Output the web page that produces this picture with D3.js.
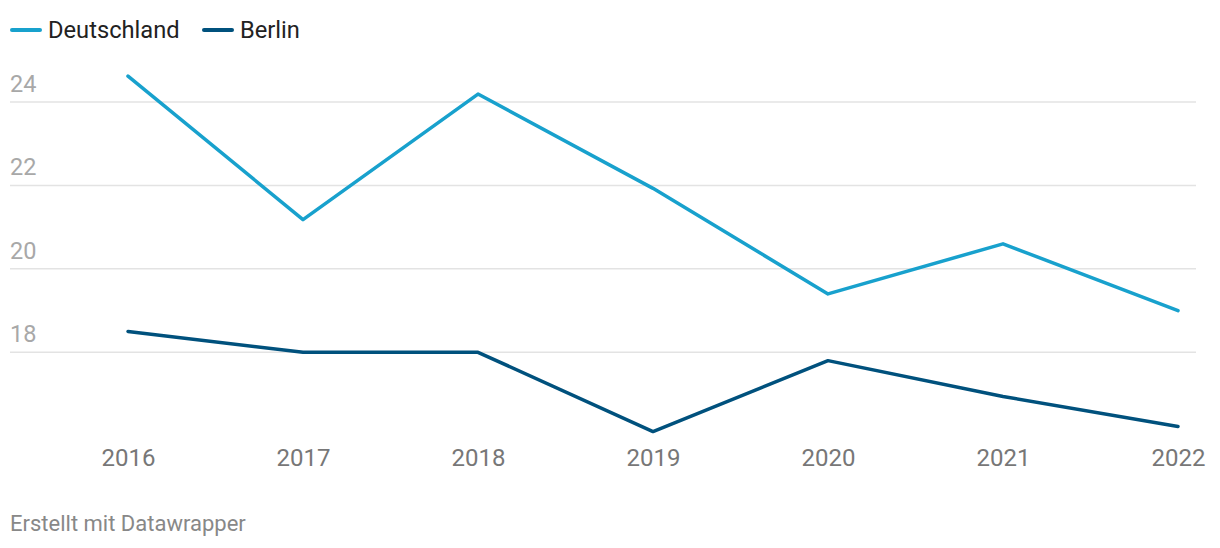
<!DOCTYPE html>
<html><head><meta charset="utf-8">
<script src="https://cdn.jsdelivr.net/npm/d3@7"></script>
<style>body{margin:0;background:#fff;font-family:Roboto,sans-serif;}</style>
</head><body><svg id="c" width="1220" height="548"></svg>
<script>
const years = ["2016","2017","2018","2019","2020","2021","2022"];
const deutschland = [24.62, 21.18, 24.19, 21.93, 19.4, 20.6, 19.0];
const berlin = [18.5, 18.0, 18.0, 16.1, 17.8, 16.94, 16.22];
const yTicks = [18, 20, 22, 24];
const seriesNames = ["Deutschland", "Berlin"];
const colors = ["#18a1cd", "#00517d"];

const svg = d3.select("#c");
const x = d3.scalePoint().domain(years).range([128, 1178]);
const y = d3.scaleLinear().domain([18, 24]).range([352.3, 102]);

// grid
const g = svg.append("g");
g.selectAll("line.grid").data(yTicks).join("line")
  .attr("x1", 10).attr("x2", 1196)
  .attr("y1", d => y(d)).attr("y2", d => y(d))
  .attr("stroke", "#e3e3e3").attr("stroke-width", 1.5);
g.selectAll("text.yt").data(yTicks).join("text")
  .attr("x", 10).attr("y", d => y(d) - 10)
  .attr("font-size", 23.5).attr("fill", "#a8a8a8").text(d => d);

// x axis labels
const xa = svg.append("g").attr("transform", "translate(0,466)")
  .call(d3.axisBottom(x).tickSize(0).tickPadding(0));
xa.select(".domain").remove();
xa.selectAll("text").attr("font-size", 24).attr("fill", "#777").attr("font-family", "Roboto").attr("dy", 0);

// lines
const line = d3.line().x((d, i) => x(years[i])).y(d => y(d));
[deutschland, berlin].forEach((s, k) => {
  svg.append("path").datum(s).attr("d", line)
    .attr("fill", "none").attr("stroke", colors[k]).attr("stroke-width", 3.5)
    .attr("stroke-linejoin", "round").attr("stroke-linecap", "round");
});

// legend
const lx = [10, 202];
seriesNames.forEach((n, k) => {
  svg.append("line").attr("x1", lx[k] + 2).attr("x2", lx[k] + 30).attr("y1", 30).attr("y2", 30)
    .attr("stroke", colors[k]).attr("stroke-width", 4).attr("stroke-linecap", "round");
  svg.append("text").attr("x", lx[k] + 38).attr("y", 38).attr("font-size", 23.7)
    .attr("fill", "#222").text(n);
});

// footer
svg.append("text").attr("x", 10).attr("y", 531).attr("font-size", 22).attr("fill", "#888")
  .text("Erstellt mit Datawrapper");
</script></body></html>
